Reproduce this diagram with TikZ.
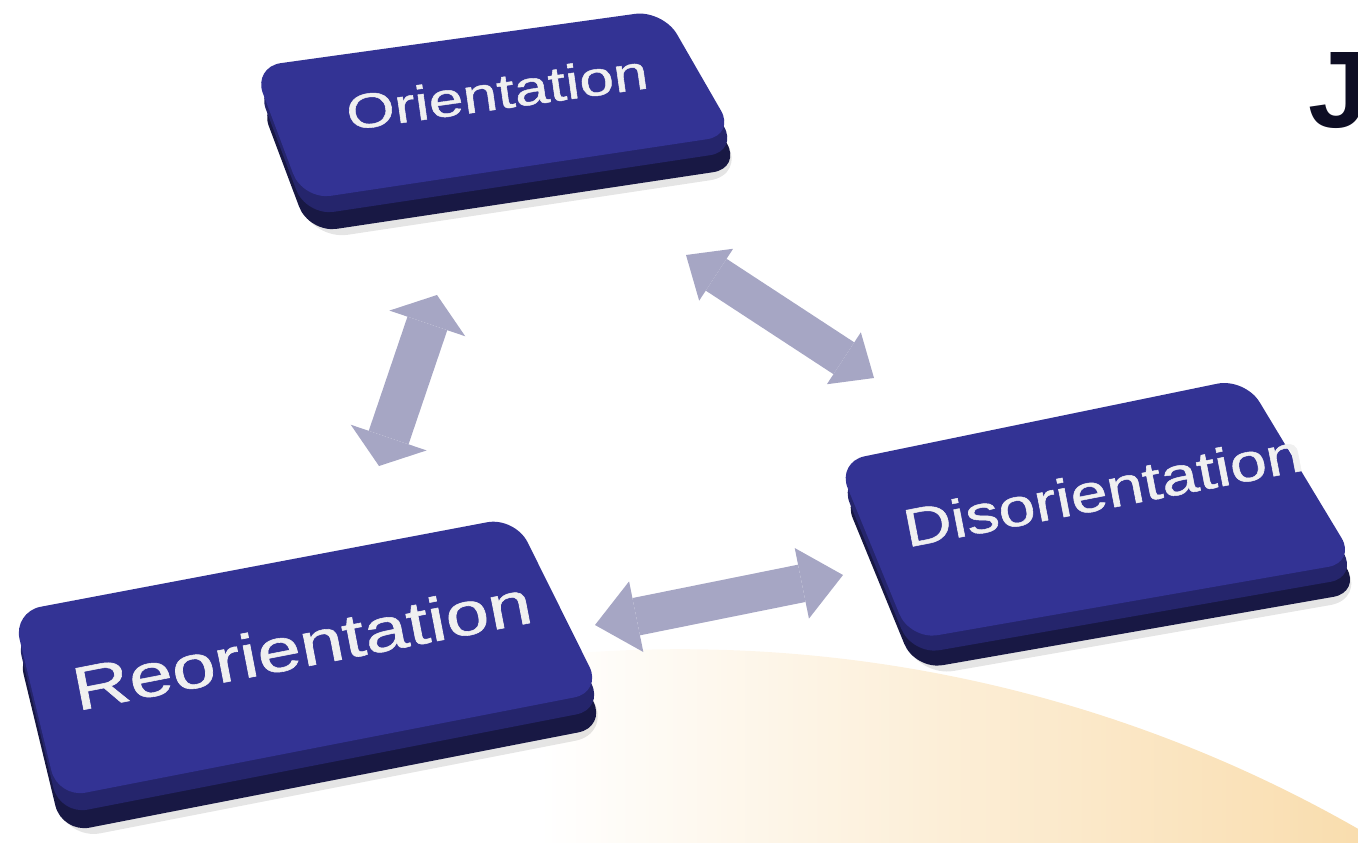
\documentclass[tikz,border=0pt]{standalone}
\usepackage{fontspec}
\setmainfont{Liberation Sans}
\newfontfamily\keyfont[FakeBold=0.9]{Liberation Sans}
\usetikzlibrary{arrows.meta, calc, positioning}

\definecolor{keytop}{RGB}{51,51,148}
\definecolor{keyedge}{RGB}{37,37,108}
\definecolor{keyside}{RGB}{24,24,68}
\definecolor{linkgray}{RGB}{166,166,196}
\definecolor{peach}{RGB}{249,221,174}
\definecolor{jetblack}{RGB}{14,14,36}

\begin{document}
\begin{tikzpicture}[x=0.01cm, y=-0.01cm,
    keyface/.style={fill=keytop, rounded corners=8pt},
    keybevel/.style={fill=keyedge, rounded corners=8pt},
    keybase/.style={fill=keyside, rounded corners=8pt},
    keydrop/.style={fill=black, opacity=0.10, rounded corners=10pt},
    keylabel/.style={text=white!94!black, inner sep=0pt},
    linkarrow/.style n args={3}{draw=linkgray, line width=#1,
      >={Triangle[width=#2, length=#3, line width=0pt]}, <->}]
  \useasboundingbox (0,0) rectangle (1358,843);
  \clip (0,0) rectangle (1358,843);

  % Background arc
  \begin{scope}
    \clip (680,2017) circle[radius=13.67cm];
    \shade[left color=white, right color=peach] (540,640) rectangle (1358,843);
  \end{scope}

  % Title letter (cut off at the edge)
  \node[font=\fontsize{31pt}{31pt}\selectfont\bfseries, text=jetblack,
        anchor=base west, inner sep=0pt] (title) at (1308,128) {J};

  % Orientation key
  \fill[keydrop, shift={(10,40)}] (253,67) -- (663,10) -- (735,135) -- (303,200) -- cycle;
  \fill[keybase, shift={(6,33)}] (253,67) -- (663,10) -- (735,135) -- (303,200) -- cycle;
  \fill[keybevel, shift={(3,16)}] (253,67) -- (663,10) -- (735,135) -- (303,200) -- cycle;
  \fill[keyface] (253,67) -- (663,10) -- (735,135) -- (303,200) -- cycle;
  \node[keylabel, rotate=8, xscale=1.28, font=\keyfont\fontsize{13.8pt}{14pt}\selectfont]
    (ori) at (497,92) {Orientation};

  % Reorientation key
  \fill[keydrop, shift={(8,42)}] (13,612) -- (515,517) -- (602,692) -- (58,798) -- cycle;
  \fill[keybase, shift={(4,35)}] (13,612) -- (515,517) -- (602,692) -- (58,798) -- cycle;
  \fill[keybevel, shift={(2,17)}] (13,612) -- (515,517) -- (602,692) -- (58,798) -- cycle;
  \fill[keyface] (13,612) -- (515,517) -- (602,692) -- (58,798) -- cycle;
  \node[keylabel, rotate=11, xscale=1.28, font=\keyfont\fontsize{17.4pt}{18pt}\selectfont]
    (reo) at (302,645) {Reorientation};

  % Disorientation key
  \fill[keydrop, shift={(9,37)}] (837,462) -- (1245,378) -- (1356,562) -- (910,640) -- cycle;
  \fill[keybase, shift={(5,30)}] (837,462) -- (1245,378) -- (1356,562) -- (910,640) -- cycle;
  \fill[keybevel, shift={(2,15)}] (837,462) -- (1245,378) -- (1356,562) -- (910,640) -- cycle;
  \fill[keyface] (837,462) -- (1245,378) -- (1356,562) -- (910,640) -- cycle;
  \node[keylabel, rotate=11, xscale=1.24, font=\keyfont\fontsize{15.2pt}{16pt}\selectfont]
    (dis) at (1103,490) {Disorientation};

  % Arrow ends
  \coordinate (ori-sw) at (437,295);
  \coordinate (ori-se) at (686,255);
  \coordinate (reo-n) at (379,466);
  \coordinate (reo-e) at (595,625);
  \coordinate (dis-nw) at (874,378);
  \coordinate (dis-w) at (843,575);

  % Links
  \draw[linkarrow={0.42cm}{0.80cm}{0.30cm}] (reo-n) -- (ori-sw);
  \draw[linkarrow={0.38cm}{0.62cm}{0.36cm}] (ori-se) -- (dis-nw);
  \draw[linkarrow={0.38cm}{0.72cm}{0.42cm}] (reo-e) -- (dis-w);
\end{tikzpicture}
\end{document}
